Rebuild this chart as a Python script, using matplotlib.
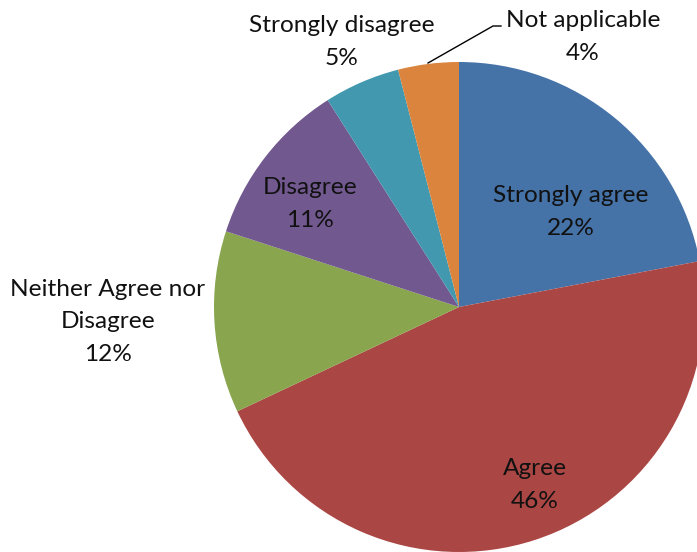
import matplotlib.pyplot as plt

# survey answers, clockwise from 12 o'clock
labels = ["Strongly agree", "Agree", "Neither Agree nor\nDisagree", "Disagree",
          "Strongly disagree", "Not applicable"]
values = [22, 46, 12, 11, 5, 4]
colors = ["#4572A7", "#AA4643", "#89A54E", "#71588F", "#4198AF", "#DB843D"]

plt.rcParams['font.family'] = ['Lato', 'DejaVu Sans']

fig = plt.figure(figsize=(6.97, 5.52), dpi=100)
ax = fig.add_axes([0, 0, 1, 1])

# pixel-like coordinates, origin bottom-left
cx, cy, r = 459, 245, 245
ax.pie(values, colors=colors, startangle=90, counterclock=False,
       center=(cx, cy), radius=r, frame=True,
       wedgeprops=dict(linewidth=0))
ax.set_xlim(0, 697)
ax.set_ylim(0, 552)
ax.axis("off")

# label positions (centres of the text blocks)
label_pos = [(571, 340), (535, 67), (108, 230), (310, 348), (342, 510), (583, 515)]
for lab, v, (x, y) in zip(labels, values, label_pos):
    ax.text(x, y, f"{lab}\n{v}%", ha="center", va="center", fontsize=17.6,
            color="#111111", linespacing=1.65)

# leader line for the small slice
ax.plot([428, 493, 501], [489, 526, 526], color="black", lw=1)

fig.savefig("out.png", dpi=100)
